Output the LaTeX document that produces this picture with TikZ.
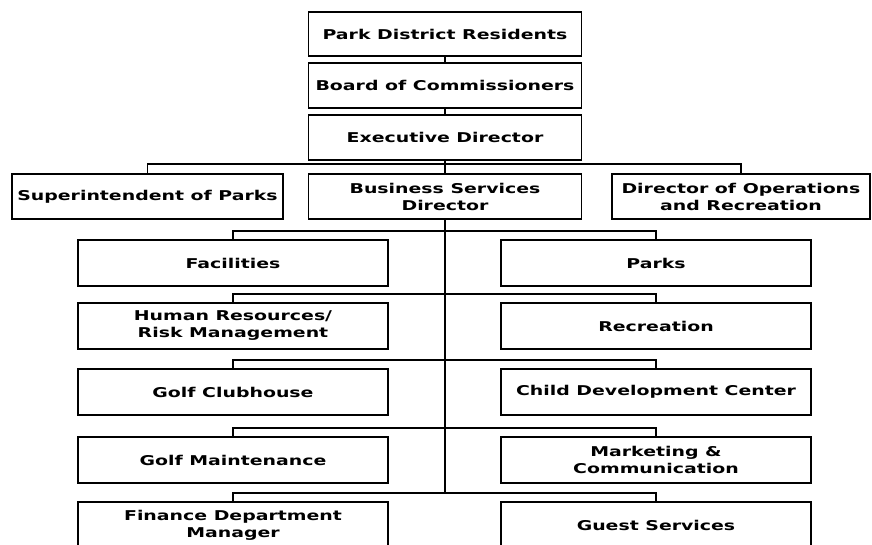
\documentclass[tikz,border=0pt]{standalone}
\usepackage{fontspec}
\newfontfamily\chartfont[FakeStretch=1.4]{DejaVu Sans}

\begin{document}
\begin{tikzpicture}[x=1pt, y=-1pt,
    unit/.style={draw, line width=1.8pt, inner sep=0pt, align=center,
        minimum width=310, minimum height=46,
        font=\chartfont\bfseries\fontsize{13.5}{17}\selectfont},
    link/.style={line width=1.8pt}]
    \useasboundingbox (0,0) rectangle (872,544);
    \clip (0,0) rectangle (872,544);

    % Top of the chart
    \node[unit, minimum width=273, minimum height=44] (res) at (445,34) {Park District Residents};
    \node[unit, minimum width=273, minimum height=45] (board) at (445,85.5) {Board of Commissioners};
    \node[unit, minimum width=273, minimum height=45] (exec) at (445,137.5) {Executive Director};

    % Directors
    \node[unit, minimum width=271, minimum height=45] (supt) at (147.5,196.5) {Superintendent of Parks};
    \node[unit, minimum width=273, minimum height=45] (biz) at (445,196.5) {Business Services\\Director};
    \node[unit, minimum width=258, minimum height=45] (ops) at (741,196.5) {Director of Operations\\and Recreation};

    % Left column
    \node[unit] (fac) at (233,263) {Facilities};
    \node[unit] (hr) at (233,326) {Human Resources/\\Risk Management};
    \node[unit] (club) at (233,392) {Golf Clubhouse};
    \node[unit] (maint) at (233,460) {Golf Maintenance};
    \node[unit] (fin) at (233,525) {Finance Department\\Manager};

    % Right column
    \node[unit] (parks) at (656,263) {Parks};
    \node[unit] (rec) at (656,326) {Recreation};
    \node[unit] (child) at (656,392) {Child Development Center};
    \node[unit] (mkt) at (656,460) {Marketing \&\\Communication};
    \node[unit] (guest) at (656,525) {Guest Services};

    % Connectors
    \draw[link] (res) -- (board);
    \draw[link] (board) -- (exec);
    \draw[link] (exec) -- (biz);
    \draw[link] (supt.north) -- ++(0,-9) -| (ops.north);

    \coordinate (trunkend) at (445,493.5);
    \draw[link] (biz) -- (trunkend);
    \foreach \l/\r in {fac/parks, hr/rec, club/child, maint/mkt, fin/guest}
        \draw[link] (\l.north) -- ++(0,-8.5) -| (\r.north);
\end{tikzpicture}
\end{document}
